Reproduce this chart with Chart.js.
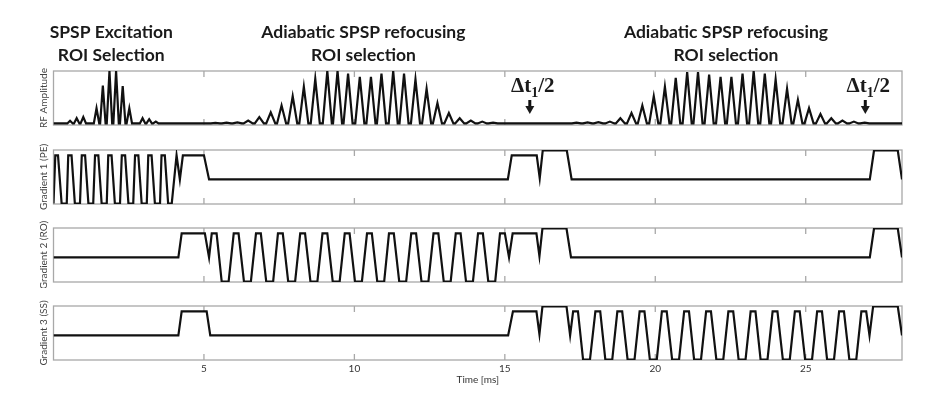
<!DOCTYPE html>
<html>
<head>
<meta charset="utf-8">
<script src="https://cdn.jsdelivr.net/npm/chart.js@4.4.1/dist/chart.umd.min.js"></script>
<style>
  body { margin: 0; background: #fff; }
  #wrap { position: relative; width: 930px; height: 396px; }
  .panel { position: absolute; left: 0; width: 930px; }
</style>
</head>
<body>
<div id="wrap">
  <div class="panel" style="top:0;height:130px"><canvas id="rf"></canvas></div>
  <div class="panel" style="top:140px;height:70px"><canvas id="pe"></canvas></div>
  <div class="panel" style="top:218px;height:70px"><canvas id="ro"></canvas></div>
  <div class="panel" style="top:296px;height:100px"><canvas id="ss"></canvas></div>
</div>
<script>
// time axis (ms)
const timeMax = 28.2;
const timeTicks = [5, 10, 15, 20, 25];

// RF sub-pulse lobes: centre time (ms) and relative amplitude
const rfExcCentres = [0.55, 0.77, 0.99, 1.43, 1.64, 1.86, 2.08, 2.30, 2.52, 2.96, 3.18, 3.40];
const rfExcHeights = [0.05, 0.10, 0.12, 0.29, 0.72, 1.0, 1.0, 0.71, 0.29, 0.10, 0.08, 0.035];

const rfRef1Centres = [5.38, 5.75, 6.11, 6.47, 6.84, 7.22, 7.58, 7.95, 8.32, 8.70, 9.10, 9.44, 9.79,
  10.18, 10.55, 10.90, 11.29, 11.65, 12.03, 12.40, 12.76, 13.14, 13.50, 13.87, 14.25, 14.61];
const rfRef1Heights = [0.01, 0.015, 0.02, 0.055, 0.12, 0.21, 0.34, 0.52, 0.70, 0.85, 1.0, 1.0, 0.95,
  0.89, 0.89, 0.95, 1.0, 0.95, 0.84, 0.66, 0.39, 0.20, 0.10, 0.055, 0.035, 0.015];

const rfRef2Centres = [17.38, 17.75, 18.11, 18.49, 18.84, 19.21, 19.57, 19.95, 20.32, 20.68, 21.06, 21.42,
  21.79, 22.17, 22.53, 22.90, 23.27, 23.64, 24.00, 24.38, 24.74, 25.11, 25.49, 25.85, 26.22, 26.60, 26.96];
const rfRef2Heights = [0.015, 0.02, 0.025, 0.035, 0.10, 0.20, 0.34, 0.52, 0.70, 0.87, 0.98, 0.98,
  0.93, 0.89, 0.89, 0.95, 1.0, 0.95, 0.84, 0.66, 0.45, 0.29, 0.18, 0.10, 0.054, 0.035, 0.015];

// gradient waveforms: [time ms, amplitude]
const gradPE = [[0, -1], [0.06, 1], [0.15, 1], [0.27, -1], [0.44, -1], [0.49, 1], [0.60, 1], [0.71, -1], [0.88, -1],
  [0.94, 1], [1.05, 1], [1.16, -1], [1.32, -1], [1.38, 1], [1.49, 1], [1.60, -1], [1.77, -1], [1.82, 1], [1.93, 1],
  [2.04, -1], [2.21, -1], [2.27, 1], [2.38, 1], [2.49, -1], [2.65, -1], [2.71, 1], [2.82, 1], [2.93, -1], [3.10, -1],
  [3.15, 1], [3.26, 1], [3.37, -1], [3.54, -1], [3.59, 1], [3.70, 1], [3.81, -1], [3.93, -1], [4.09, 1], [4.20, 0],
  [4.30, 1], [5.00, 1], [5.17, 0], [15.10, 0], [15.23, 1], [16.06, 1], [16.16, 0.05], [16.26, 1.2], [17.06, 1.2],
  [17.22, 0], [27.13, 0], [27.27, 1.2], [28.06, 1.2], [28.2, 0]];

const gradRO = [[0, 0], [4.15, 0], [4.26, 1], [5.03, 1], [5.17, 0], [5.26, 1], [5.42, 1], [5.59, -1], [5.82, -1],
  [5.99, 1], [6.15, 1], [6.33, -1], [6.56, -1], [6.73, 1], [6.89, 1], [7.07, -1], [7.30, -1],
  [7.46, 1], [7.62, 1], [7.80, -1], [8.03, -1], [8.20, 1], [8.36, 1], [8.54, -1], [8.77, -1],
  [8.94, 1], [9.10, 1], [9.28, -1], [9.51, -1], [9.68, 1], [9.84, 1], [10.02, -1], [10.25, -1],
  [10.42, 1], [10.58, 1], [10.76, -1], [10.99, -1], [11.15, 1], [11.31, 1], [11.49, -1], [11.72, -1],
  [11.89, 1], [12.05, 1], [12.23, -1], [12.46, -1], [12.63, 1], [12.79, 1], [12.97, -1], [13.20, -1],
  [13.37, 1], [13.53, 1], [13.71, -1], [13.94, -1], [14.11, 1], [14.27, 1], [14.45, -1], [14.68, -1],
  [14.84, 1], [15.00, 1], [15.14, 0], [15.26, 1], [16.05, 1], [16.15, 0.05], [16.25, 1.2], [17.05, 1.2],
  [17.20, 0], [27.13, 0], [27.27, 1.2], [28.06, 1.2], [28.2, 0]];

const gradSS = [[0, 0], [4.15, 0], [4.26, 1], [5.09, 1], [5.21, 0], [15.11, 0], [15.27, 1], [16.05, 1], [16.15, 0.05],
  [16.25, 1.2], [17.05, 1.2], [17.17, 0], [17.27, 1], [17.43, 1], [17.60, -1], [17.83, -1],
  [18.01, 1], [18.17, 1], [18.34, -1], [18.57, -1], [18.74, 1], [18.90, 1], [19.08, -1], [19.31, -1],
  [19.48, 1], [19.64, 1], [19.82, -1], [20.05, -1], [20.22, 1], [20.38, 1], [20.56, -1], [20.79, -1],
  [20.96, 1], [21.12, 1], [21.29, -1], [21.52, -1], [21.69, 1], [21.85, 1], [22.03, -1], [22.26, -1],
  [22.43, 1], [22.59, 1], [22.77, -1], [23.00, -1], [23.17, 1], [23.33, 1], [23.50, -1], [23.73, -1],
  [23.90, 1], [24.06, 1], [24.24, -1], [24.47, -1], [24.64, 1], [24.80, 1], [24.98, -1], [25.21, -1],
  [25.38, 1], [25.54, 1], [25.71, -1], [25.94, -1], [26.11, 1], [26.27, 1], [26.45, -1], [26.68, -1],
  [26.85, 1], [27.01, 1], [27.12, 0], [27.24, 1.2], [28.06, 1.2], [28.2, 0]];

// labels above the RF trace
const titleTimes = [1.92, 10.3, 22.35];
const titleLines = [['SPSP Excitation', 'ROI Selection'],
  ['Adiabatic SPSP refocusing', 'ROI selection'],
  ['Adiabatic SPSP refocusing', 'ROI selection']];
const delayTimes = [15.83, 26.98];

// build RF trace as narrow lobes on a zero baseline
function lobes(centres, heights, halfWidth) {
  const pts = [];
  centres.forEach((c, i) => {
    pts.push({x: c - halfWidth, y: 0}, {x: c, y: heights[i]}, {x: c + halfWidth, y: 0});
  });
  return pts;
}
const rfData = [{x: 0, y: 0}]
  .concat(lobes(rfExcCentres, rfExcHeights, 0.09))
  .concat(lobes(rfRef1Centres, rfRef1Heights, 0.15))
  .concat(lobes(rfRef2Centres, rfRef2Heights, 0.15))
  .concat([{x: timeMax, y: 0}]);

const toXY = arr => arr.map(([t, g]) => ({x: t, y: g}));

// grey box + inward ticks, MATLAB style
const panelFrame = {
  id: 'panelFrame',
  beforeDatasetsDraw(chart) {
    const {ctx, chartArea: a, scales: {x}} = chart;
    ctx.save();
    ctx.strokeStyle = '#a8a8a8';
    ctx.lineWidth = 1.3;
    ctx.strokeRect(a.left, a.top, a.right - a.left, a.bottom - a.top);
    ctx.beginPath();
    timeTicks.forEach(t => {
      const px = x.getPixelForValue(t);
      ctx.moveTo(px, a.top);
      ctx.lineTo(px, a.top + 6);
      ctx.moveTo(px, a.bottom);
      ctx.lineTo(px, a.bottom - 6);
    });
    ctx.stroke();
    ctx.restore();
  }
};

const rfLabels = {
  id: 'rfLabels',
  afterDraw(chart) {
    const {ctx, scales: {x}} = chart;
    ctx.save();
    ctx.fillStyle = '#1a1a1a';
    ctx.textAlign = 'center';
    ctx.font = 'bold 17.5px Lato';
    titleTimes.forEach((t, i) => {
      const px = x.getPixelForValue(t);
      ctx.fillText(titleLines[i][0], px, 38);
      ctx.fillText(titleLines[i][1], px, 61);
    });

    ctx.textAlign = 'left';
    delayTimes.forEach(t => {
      const px = x.getPixelForValue(t);
      ctx.font = 'bold 21px "Liberation Serif"';
      const w1 = ctx.measureText('\u0394t').width;
      const w3 = ctx.measureText('/2').width;
      ctx.font = 'bold 14px "Liberation Serif"';
      const w2 = ctx.measureText('1').width;
      let sx = px + 3 - (w1 + w2 + w3) / 2;
      ctx.font = 'bold 21px "Liberation Serif"';
      ctx.fillText('\u0394t', sx, 92);
      ctx.font = 'bold 14px "Liberation Serif"';
      ctx.fillText('1', sx + w1, 97);
      ctx.font = 'bold 21px "Liberation Serif"';
      ctx.fillText('/2', sx + w1 + w2, 92);

      // down arrow
      ctx.strokeStyle = '#111';
      ctx.lineWidth = 3;
      ctx.beginPath();
      ctx.moveTo(px, 100);
      ctx.lineTo(px, 108);
      ctx.stroke();
      ctx.beginPath();
      ctx.moveTo(px - 4.5, 106);
      ctx.lineTo(px + 4.5, 106);
      ctx.lineTo(px, 114);
      ctx.closePath();
      ctx.fill();
    });
    ctx.restore();
  }
};

function makePanel(id, points, yMin, yMax, yTitle, pad, timeAxis, extra) {
  const xScale = {
    type: 'linear',
    min: 0,
    max: timeMax,
    display: timeAxis,
    grid: { display: false, drawTicks: false },
    border: { display: false },
    ticks: { padding: 3, color: '#333', font: { family: 'Lato', size: 10 } },
    title: {
      display: timeAxis,
      text: 'Time [ms]',
      color: '#333',
      font: { family: 'Lato', size: 10 },
      padding: { top: 0, bottom: 4 }
    },
    afterBuildTicks: scale => { scale.ticks = timeTicks.map(v => ({value: v})); }
  };
  if (timeAxis) {
    xScale.afterFit = scale => { scale.height = 30; };
  }

  return new Chart(document.getElementById(id), {
    type: 'line',
    data: {
      datasets: [{
        data: points,
        borderColor: '#111',
        borderWidth: 2.2,
        pointRadius: 0,
        tension: 0,
        fill: false
      }]
    },
    options: {
      responsive: true,
      maintainAspectRatio: false,
      animation: false,
      events: [],
      layout: { padding: { left: 0, right: 28, top: pad[0], bottom: pad[1] } },
      plugins: { legend: { display: false }, tooltip: { enabled: false } },
      scales: {
        x: xScale,
        y: {
          type: 'linear',
          min: yMin,
          max: yMax,
          grid: { display: false },
          border: { display: false },
          ticks: { display: false },
          title: {
            display: true,
            text: yTitle,
            color: '#444',
            font: { family: 'Lato', size: 10 },
            padding: { top: 38, bottom: 0 }
          },
          afterFit: scale => { scale.width = 53.5; }
        }
      }
    },
    plugins: [panelFrame].concat(extra || [])
  });
}

makePanel('rf', rfData, -0.03, 1.0, 'RF Amplitude', [71, 5], false, [rfLabels]);
makePanel('pe', toXY(gradPE), -1.02, 1.22, 'Gradient 1 (PE)', [10, 6], false);
makePanel('ro', toXY(gradRO), -1.02, 1.22, 'Gradient 2 (RO)', [10, 6], false);
makePanel('ss', toXY(gradSS), -1.02, 1.22, 'Gradient 3 (SS)', [10, 6], true);
</script>
</body>
</html>
